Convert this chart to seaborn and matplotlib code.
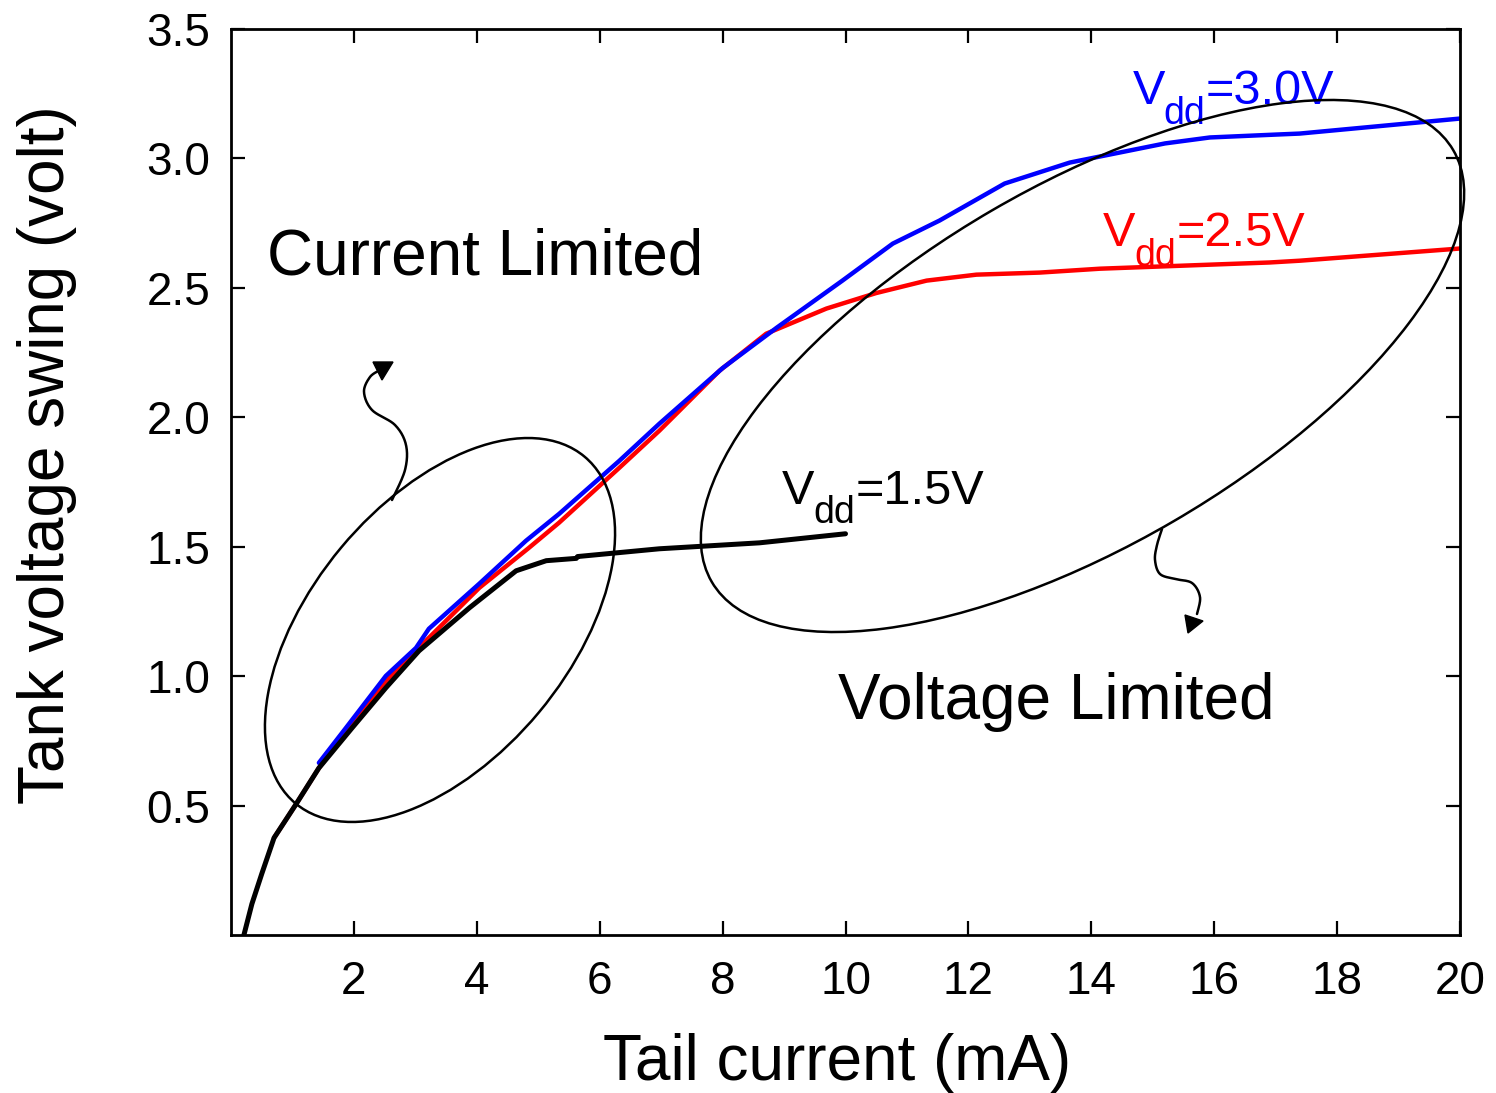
import numpy as np
import pandas as pd
import matplotlib
matplotlib.use("Agg")
import matplotlib.pyplot as plt
import seaborn as sns
from matplotlib.patches import Ellipse, Polygon
from matplotlib.transforms import IdentityTransform

# ---------------- data ----------------
x_15 = [0.21, 0.34, 0.50, 0.70, 1.06, 1.43, 1.97, 2.52, 3.06, 3.88, 4.64, 5.13, 5.62, 5.64, 6.97, 8.6, 10.0]
y_15 = [0.00, 0.12, 0.236, 0.375, 0.506, 0.645, 0.80, 0.955, 1.098, 1.264, 1.407, 1.446, 1.455, 1.462, 1.492, 1.515, 1.55]

x_25 = [0.70, 1.06, 1.43, 2.13, 2.57, 3.22, 4.04, 4.85, 5.34, 6.32, 6.97, 7.95, 8.71, 9.69, 10.5,
        11.32, 12.13, 13.16, 14.14, 16.9, 17.4, 20.0]
y_25 = [0.375, 0.506, 0.645, 0.866, 0.993, 1.148, 1.341, 1.496, 1.593, 1.805, 1.948, 2.18, 2.323, 2.42,
        2.48, 2.528, 2.551, 2.559, 2.574, 2.598, 2.605, 2.652]

x_30 = [1.43, 1.87, 2.52, 3.01, 3.22, 4.04, 4.80, 5.34, 6.32, 6.97, 8.0, 8.88, 9.95, 10.77, 11.53,
        12.59, 13.65, 15.2, 15.93, 16.99, 17.39, 20.0]
y_30 = [0.665, 0.80, 1.001, 1.109, 1.183, 1.357, 1.523, 1.627, 1.832, 1.975, 2.19, 2.346, 2.528, 2.671,
        2.76, 2.903, 2.984, 3.058, 3.081, 3.092, 3.096, 3.154]

x_ticks = [2, 4, 6, 8, 10, 12, 14, 16, 18, 20]
y_ticks = [0.5, 1.0, 1.5, 2.0, 2.5, 3.0, 3.5]
x_label = "Tail current (mA)"
y_label = "Tank voltage swing (volt)"
vdd_values = ["1.5V", "2.5V", "3.0V"]

# ---------------- style ----------------
sns.set_style("ticks")
plt.rcParams["font.family"] = ["Liberation Sans", "DejaVu Sans"]
plt.rcParams["text.color"] = "black"
plt.rcParams["axes.labelcolor"] = "black"
plt.rcParams["xtick.color"] = "black"
plt.rcParams["ytick.color"] = "black"

W, H = 1496, 1093
fig = plt.figure(figsize=(W / 100, H / 100), dpi=100)
ax = fig.add_axes([231 / W, 1 - 935 / H, (1460 - 231) / W, (935 - 29) / H])

sns.lineplot(x=x_25, y=y_25, ax=ax, color="#ff0000", lw=3.2, sort=False, estimator=None)
sns.lineplot(x=x_30, y=y_30, ax=ax, color="#0000ff", lw=3.2, sort=False, estimator=None)
sns.lineplot(x=x_15, y=y_15, ax=ax, color="black", lw=3.6, sort=False, estimator=None)

ax.set_xlim(0, 20)
ax.set_ylim(0, 3.5)
ax.set_xticks(x_ticks)
ax.set_yticks(y_ticks)
ax.set_xticklabels([str(t) for t in x_ticks])
ax.set_yticklabels([f"{t:.1f}" for t in y_ticks])
ax.tick_params(direction="in", length=10, width=1.6, top=True, right=True,
               labelsize=33, colors="black")
ax.tick_params(axis="x", pad=18)
ax.tick_params(axis="y", pad=15)
for s in ax.spines.values():
    s.set_linewidth(2.0)
    s.set_color("black")

ax.set_xlabel(x_label, fontsize=46, color="black")
ax.set_ylabel(y_label, fontsize=46, color="black")
ax.xaxis.set_label_coords(0.4935, -0.108)
ax.yaxis.set_label_coords(-0.125, 0.53)


# series labels: "V" + subscript "dd" + "=value"
def vdd_label(x, y, value, color, size=35, subsize=27):
    t1 = ax.text(x, y, "V", fontsize=size, color=color, ha="left", va="baseline")
    t2 = ax.annotate("dd", xy=(1, 0), xycoords=t1, xytext=(-0.8, -12.7),
                     textcoords="offset points", fontsize=subsize, color=color,
                     ha="left", va="bottom")
    ax.annotate("=" + value, xy=(1, 0), xycoords=t2, xytext=(0.3, 12.7),
                textcoords="offset points", fontsize=size, color=color,
                ha="left", va="bottom")


vdd_label(8.97, 1.666, vdd_values[0], "black")
vdd_label(14.19, 2.66, vdd_values[1], "#ff0000")
vdd_label(14.67, 3.21, vdd_values[2], "#0000ff")

# region labels
ax.text(0.59, 2.55, "Current Limited", fontsize=46, color="black", ha="left", va="baseline")
ax.text(9.87, 0.835, "Voltage Limited", fontsize=46, color="black", ha="left", va="baseline")

# ---------------- annotation shapes (in reference pixel space) ----------------
ident = IdentityTransform()


def d(xp, yp):
    return (xp, H - yp)


for (cx, cy, a, b, ang) in [(1082.5, 366, 429, 180, 30.2), (440, 630, 225.7, 128.7, 50.2)]:
    e = Ellipse(d(cx, cy), 2 * a, 2 * b, angle=ang, transform=ident, fill=False,
                edgecolor="black", lw=1.8, zorder=5)
    fig.add_artist(e)


def catmull(pts, n=20):
    pts = np.asarray(pts, float)
    p = np.vstack([pts[0], pts, pts[-1]])
    out = []
    for i in range(1, len(p) - 2):
        p0, p1, p2, p3 = p[i - 1], p[i], p[i + 1], p[i + 2]
        for t in np.linspace(0, 1, n, endpoint=False):
            t2, t3 = t * t, t * t * t
            out.append(0.5 * ((2 * p1) + (-p0 + p2) * t + (2 * p0 - 5 * p1 + 4 * p2 - p3) * t2
                              + (-p0 + 3 * p1 - 3 * p2 + p3) * t3))
    out.append(pts[-1])
    return np.array(out)


arrow1 = [(392, 500), (405, 470), (406, 445), (395, 425), (372, 410), (364, 392), (370, 377), (380, 370)]
head1 = [(373, 362), (393, 362), (382, 380)]
arrow2 = [(1162, 529), (1157, 545), (1155, 560), (1160, 574), (1175, 579), (1192, 583), (1200, 597), (1197, 614)]
head2 = [(1185, 615), (1203, 621), (1188, 633)]

for path, head in [(arrow1, head1), (arrow2, head2)]:
    c = catmull(path)
    fig.add_artist(plt.Line2D(c[:, 0], H - c[:, 1], transform=ident, color="black", lw=1.8, zorder=5))
    fig.add_artist(Polygon([d(*q) for q in head], closed=True, transform=ident,
                           facecolor="black", edgecolor="black", lw=1, zorder=5))

fig.savefig("out.png", dpi=100)
